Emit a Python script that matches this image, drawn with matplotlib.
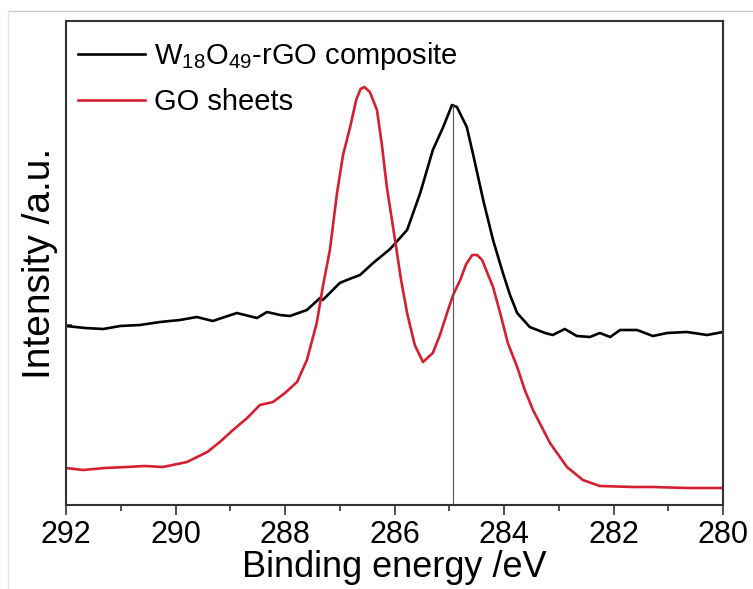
import matplotlib
matplotlib.use("Agg")
import matplotlib.pyplot as plt
from matplotlib.lines import Line2D

fam = ["Liberation Sans", "DejaVu Sans"]
plt.rcParams["font.family"] = fam
plt.rcParams["mathtext.fontset"] = "custom"
plt.rcParams["mathtext.rm"] = "Liberation Sans"
plt.rcParams["mathtext.it"] = "Liberation Sans"

# Data (binding energy in eV, intensity in a.u.)
composite_energy = [292.00, 291.65, 291.32, 291.01, 290.65, 290.28, 289.92, 289.61, 289.32, 288.88,
                    288.51, 288.33, 288.09, 287.91, 287.60, 287.36, 287.31, 287.00, 286.87, 286.63,
                    286.39, 286.08, 285.77, 285.53, 285.30, 285.11, 284.95, 284.86, 284.68, 284.57,
                    284.38, 284.20, 284.02, 283.89, 283.76, 283.53, 283.25, 283.11, 282.89, 282.67,
                    282.43, 282.25, 282.06, 281.88, 281.57, 281.28, 281.02, 280.66, 280.29, 280.00]
composite_intensity = [179, 177, 176, 179, 180, 183, 185, 188, 184, 192,
                       187, 193, 190, 189, 195, 207, 205, 222, 225, 230,
                       242, 256, 275, 312, 355, 378, 400, 398, 378, 352,
                       305, 265, 232, 210, 192, 178, 172, 170, 176, 169,
                       168, 172, 168, 175, 175, 169, 172, 173, 170, 173]

go_energy = [292.00, 291.69, 291.29, 290.89, 290.56, 290.23, 289.79, 289.42, 289.19, 288.95,
             288.69, 288.46, 288.22, 288.00, 287.78, 287.60, 287.42, 287.31, 287.18, 287.05,
             286.94, 286.81, 286.70, 286.62, 286.55, 286.45, 286.32, 286.23, 286.14, 285.99, 285.88,
             285.77, 285.63, 285.48, 285.30, 285.17, 285.04, 284.93, 284.80, 284.69, 284.58,
             284.49, 284.40, 284.20, 284.07, 283.93, 283.76, 283.62, 283.47, 283.16, 282.85,
             282.56, 282.25, 281.64, 281.28, 280.66, 280.00]
go_intensity = [37, 35, 37, 38, 39, 38, 43, 53, 63, 75,
                87, 100, 103, 112, 123, 145, 182, 218, 255, 312,
                350, 378, 405, 416, 418, 413, 395, 360, 318, 265, 225,
                192, 160, 143, 152, 170, 192, 210, 225, 241, 250,
                250, 245, 218, 192, 162, 138, 115, 95, 62, 38,
                25, 19, 18, 18, 17, 17]

peak_position = 284.93
peak_height = 400
labels = ["W$_{18}$O$_{49}$-rGO composite", "GO sheets"]
major_ticks = [292, 290, 288, 286, 284, 282, 280]
minor_ticks = [291, 289, 287, 285, 283, 281]

fig = plt.figure(figsize=(7.53, 5.89), dpi=100)
ax = fig.add_axes([66/753, 1-505/589, (723-66)/753, (505-21)/589])

ax.plot(composite_energy, composite_intensity, color="black", lw=1.9,
        solid_joinstyle="round", label=labels[0])
ax.plot(go_energy, go_intensity, color="#d42030", lw=1.9,
        solid_joinstyle="round", label=labels[1])
ax.vlines(peak_position, 0, peak_height, color="#555555", lw=0.8)

ax.set_xlim(292, 280)
ax.set_ylim(0, 484)
ax.set_xticks(major_ticks)
ax.set_xticks(minor_ticks, minor=True)
ax.set_xticklabels([str(t) for t in major_ticks])
ax.set_yticks([180])
ax.set_yticklabels([])
ax.tick_params(axis="y", direction="in", length=4, width=1.2, color="#333333")
ax.tick_params(axis="x", which="major", direction="out", length=7.5, width=1.2,
               color="#333333", labelsize=22, pad=3)
ax.tick_params(axis="x", which="minor", direction="out", length=4, width=1.2, color="#333333")
for s in ax.spines.values():
    s.set_linewidth(1.5)
    s.set_color("#333333")

ax.set_xlabel("Binding energy /eV", fontsize=26, labelpad=0)
ax.set_ylabel("Intensity /a.u.", fontsize=28, labelpad=2)

ax.legend(loc="upper left", frameon=False, fontsize=21, handlelength=2.3,
          handletextpad=0.3, labelspacing=0.55, borderaxespad=0.0, borderpad=0.4,
          bbox_to_anchor=(0.0, 0.985))

# light screenshot border
fig.add_artist(Line2D([8/753, 1], [1-11/589, 1-11/589], color="#cccccc", lw=1))
fig.add_artist(Line2D([8/753, 8/753], [0, 1-11/589], color="#e6e6e6", lw=1))

fig.savefig("out.png", dpi=100)
